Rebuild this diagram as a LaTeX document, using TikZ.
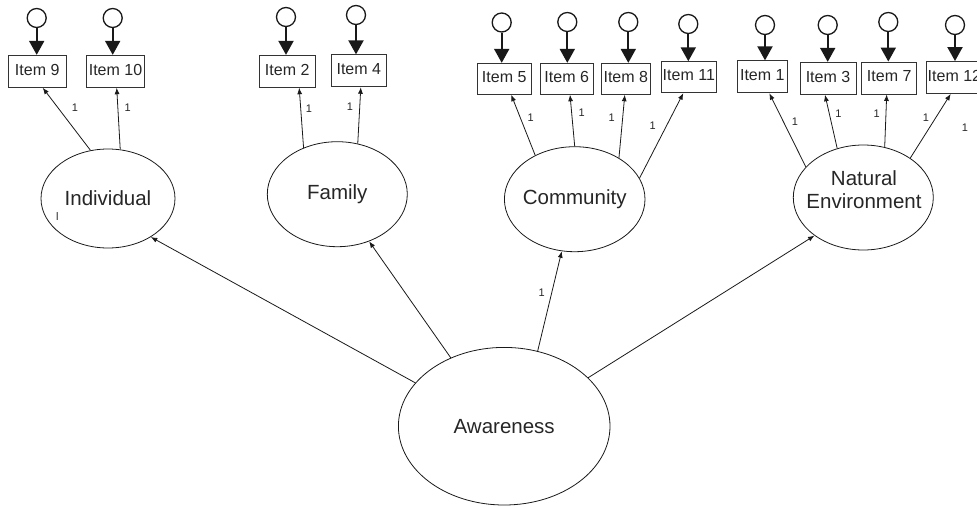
\documentclass[tikz,border=0pt]{standalone}
\usepackage{fontspec}
\setmainfont{Liberation Sans}
\usetikzlibrary{shapes.geometric,arrows.meta}
\begin{document}
\begin{tikzpicture}[x=1pt,y=-1pt,
  lat/.style={draw=black!90,ellipse,inner sep=0pt,line width=0.8pt},
  item/.style={draw=black!80,rectangle,inner sep=0pt,minimum height=32pt,line width=0.9pt,
    text height=11.5pt,text depth=4pt,font=\fontsize{16}{18}\selectfont,text=black!85},
  err/.style={draw=black!90,circle,inner sep=0pt,minimum size=19pt,line width=1.3pt},
  errarr/.style={draw=black!90,line width=2pt,-{Triangle[length=14pt,width=15pt]}},
  load/.style={draw=black!90,line width=0.8pt,-{Latex[length=6.5pt,width=5pt]}},
  one/.style={font=\fontsize{11}{12}\selectfont,inner sep=0pt,text=black!85},
  lattext/.style={font=\fontsize{20.5}{23}\selectfont,align=center,inner sep=0pt,text=black!85}
]
\useasboundingbox (0,0) rectangle (977,506);

% latent variables
\node[lat,minimum width=134pt,minimum height=99pt] (ind) at (108,198.5) {};
\node[lattext] (indt) at (ind.center) {Individual};
\node[lat,minimum width=140pt,minimum height=105pt] (fam) at (337.3,194.2) {};
\node[lattext] (famt) at (fam.center) {Family};
\node[lat,minimum width=140.6pt,minimum height=105pt] (com) at (574.7,199.2) {};
\node[lattext] (comt) at (com.center) {Community};
\node[lat,minimum width=140pt,minimum height=105pt] (nat) at (863.3,197.5) {};
\node[lattext] (natt) at (864,190) {Natural\\Environment};
\node[lat,minimum width=211.6pt,minimum height=157.6pt] (aw) at (504.2,426.2) {};
\node[lattext] (awt) at (aw.center) {Awareness};

% observed items
\node[item,minimum width=57.7pt] (i9) at (37.2,71.3) {Item 9};
\node[item,minimum width=57.6pt] (i10) at (115.5,71.3) {Item 10};
\node[item,minimum width=55.7pt] (i2) at (287.2,71.3) {Item 2};
\node[item,minimum width=55.7pt] (i4) at (358.8,70.8) {Item 4};
\node[item,minimum width=53.7pt,minimum height=31pt] (i5) at (504.2,78.8) {Item 5};
\node[item,minimum width=53.3pt,minimum height=31pt] (i6) at (566.7,78.8) {Item 6};
\node[item,minimum width=48.3pt,minimum height=31pt] (i8) at (625.8,78.8) {Item 8};
\node[item,minimum width=54.3pt,minimum height=31pt] (i11) at (688.8,77.2) {Item 11};
\node[item,minimum width=50pt] (i1) at (762.3,76.8) {Item 1};
\node[item,minimum width=56pt] (i3) at (828,78.3) {Item 3};
\node[item,minimum width=55pt] (i7) at (889.2,78) {Item 7};
\node[item,minimum width=55.3pt] (i12) at (954.4,77.5) {Item 12};

% error terms
\node[err] (e9) at (36.7,18) {};
\node[err] (e10) at (112.7,18) {};
\node[err] (e2) at (286,17) {};
\node[err] (e4) at (356,15) {};
\node[err] (e5) at (501.7,22.5) {};
\node[err] (e6) at (567.3,22) {};
\node[err] (e8) at (628.3,22) {};
\node[err] (e11) at (688.3,24) {};
\node[err] (e1) at (765,25) {};
\node[err] (e3) at (827.7,25) {};
\node[err] (e7) at (888.3,22) {};
\node[err] (e12) at (955,25) {};

\foreach \e/\i in {e9/i9,e10/i10,e2/i2,e4/i4,e5/i5,e6/i6,e8/i8,e11/i11,e1/i1,e3/i3,e7/i7,e12/i12}
  \draw[errarr] (\e.south) -- (\e.south |- \i.north);

% loadings
\draw[load] (ind.110.6) -- ([xshift=5.5pt]i9.south);
\draw[load] (ind.76) -- ([xshift=1.2pt]i10.south);
\draw[load] (fam.126.9) -- ([xshift=12pt]i2.south);
\draw[load] (fam.68.2) -- ([xshift=2pt]i4.south);
\draw[load] (com.132.3) -- ([xshift=7pt]i5.south);
\draw[load] (com.90) -- ([xshift=3.3pt]i6.south);
\draw[load] (com.43.4) -- ([xshift=-1pt]i8.south);
\draw[load] (com.18.8) -- ([xshift=-5.5pt]i11.south);
\draw[load] (nat.152.4) -- ([xshift=7pt]i1.south);
\draw[load] (nat.118.6) -- ([xshift=-3pt]i3.south);
\draw[load] (nat.67.6) -- ([xshift=-2.5pt]i7.south);
\draw[load] (nat.40.7) -- ([xshift=-3.7pt]i12.south);

% structural paths
\draw[load] (aw.154.9) -- (ind.-42.3);
\draw[load] (aw.128.96) -- (fam.-56.9);
\draw[load] (aw.66.4) -- (com.256);
\draw[load] (aw.30.5) -- (nat.218.5);

% path labels
\node[one] (l1) at (75,108) {1};
\node[one] (l2) at (127.7,108) {1};
\node[one] (l3) at (309,109) {1};
\node[one] (l4) at (350,107) {1};
\node[one] (l5) at (530.7,117.3) {1};
\node[one] (l6) at (581.7,112.3) {1};
\node[one] (l7) at (611.7,117.3) {1};
\node[one] (l8) at (652.7,126) {1};
\node[one] (l9) at (795,121.7) {1};
\node[one] (l10) at (838.3,113.3) {1};
\node[one] (l11) at (876.7,113.3) {1};
\node[one] (l12) at (926,117.3) {1};
\node[one] (l13) at (965,127.3) {1};
\node[one] (l14) at (541.7,292.3) {1};
\node[one] (lmark) at (57.3,217) {l};
\end{tikzpicture}
\end{document}
